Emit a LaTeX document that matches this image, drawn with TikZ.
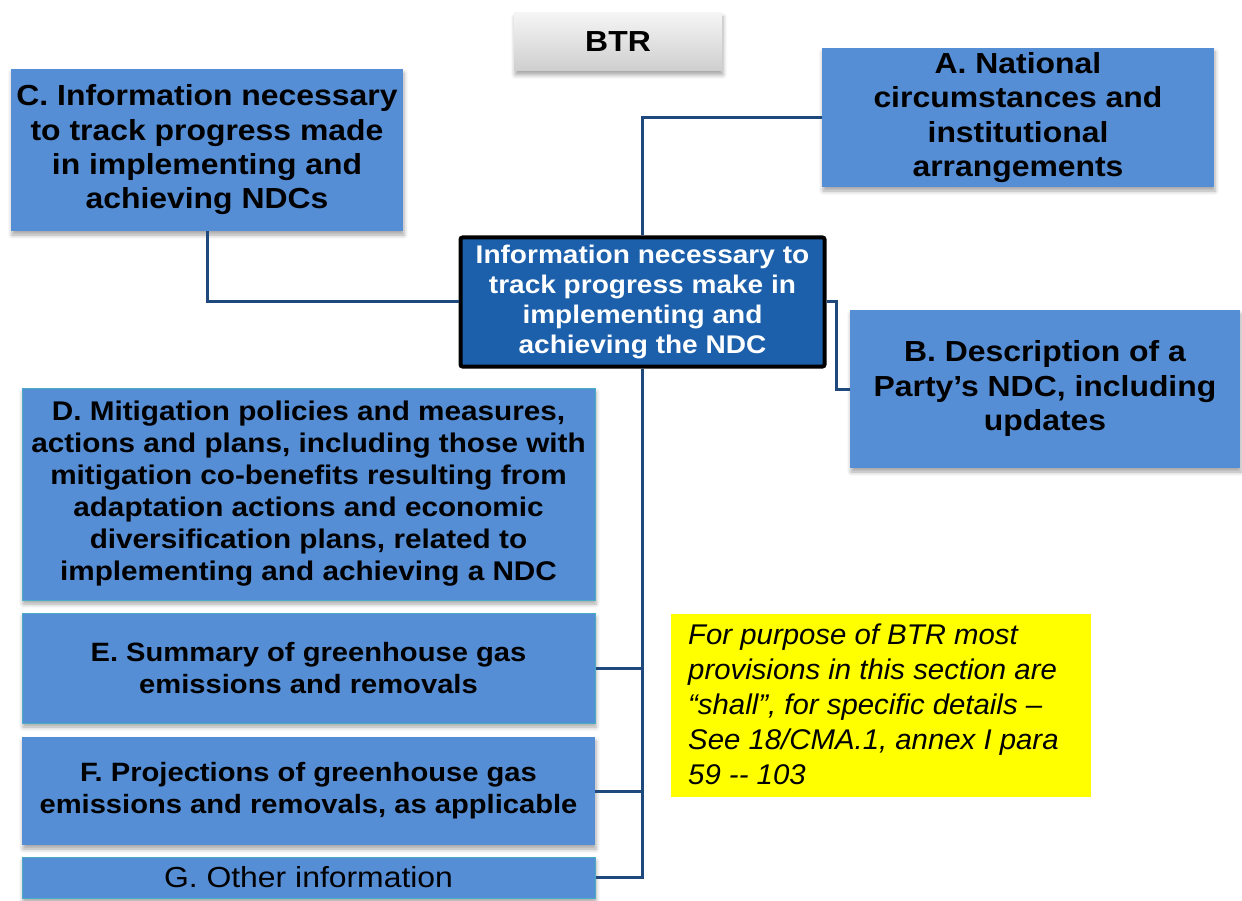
\documentclass[tikz,border=0pt]{standalone}
\usepackage{fontspec}
\setmainfont{Liberation Sans}[FakeStretch=1.1]
\newfontfamily\notefont{Liberation Sans}[FakeStretch=1.03]
\usetikzlibrary{shadows.blur}
\definecolor{boxblue}{RGB}{85,142,213}
\definecolor{ctrblue}{RGB}{28,96,172}
\definecolor{linkblue}{RGB}{31,73,125}
\definecolor{edgecyan}{RGB}{75,172,198}
\definecolor{noteyellow}{RGB}{255,255,0}
\tikzset{
  sh/.style={blur shadow={shadow xshift=1pt, shadow yshift=-4pt, shadow blur radius=4pt, shadow opacity=35}},
  itembox/.style={fill=boxblue, inner sep=0pt, align=center, font=\bfseries, sh},
  cyanbox/.style={itembox, draw=edgecyan, line width=1pt},
  link/.style={draw=linkblue, line width=3pt},
}
\begin{document}
\begin{tikzpicture}[x=1pt,y=-1pt]
\useasboundingbox (0,0) rectangle (1242,901);
% BTR
\node[inner sep=0pt, minimum width=208pt, minimum height=58pt, top color=gray!8, bottom color=gray!38, sh,
  font=\fontsize{29}{34}\selectfont\bfseries] (btr) at (618,42) {BTR};
% C
\node[itembox, minimum width=392pt, minimum height=162pt, font=\fontsize{29}{34.3}\selectfont\bfseries] (C) at (207,150)
  {C. Information necessary\\to track progress made\\in implementing and\\achieving NDCs};
% A
\node[itembox, minimum width=392pt, minimum height=139pt, font=\fontsize{29}{34.5}\selectfont\bfseries] (A) at (1018,117.5)
  {A. National\\circumstances and\\institutional\\arrangements};
% centre
\node[fill=ctrblue, draw=black, line width=4pt, rounded corners=2pt, inner sep=0pt, minimum width=364pt, minimum height=129pt,
  align=center, text=white, font=\fontsize{25.5}{30}\selectfont\bfseries] (ctr) at (642.5,302)
  {Information necessary to\\track progress make in\\implementing and\\achieving the NDC};
% B
\node[itembox, minimum width=390pt, minimum height=158pt, font=\fontsize{29}{34.5}\selectfont\bfseries] (B) at (1045,389)
  {B. Description of a\\Party’s NDC, including\\updates};
% D
\node[cyanbox, minimum width=573pt, minimum height=212pt, font=\fontsize{27}{32}\selectfont\bfseries] (D) at (308.5,494)
  {D. Mitigation policies and measures,\\actions and plans, including those with\\mitigation co-benefits resulting from\\adaptation actions and economic\\diversification plans, related to\\implementing and achieving a NDC};
% E
\node[cyanbox, minimum width=573pt, minimum height=110pt, font=\fontsize{26.5}{32}\selectfont\bfseries] (E) at (308.5,668)
  {E. Summary of greenhouse gas\\emissions and removals};
% F
\node[itembox, minimum width=573pt, minimum height=108pt, font=\fontsize{26.5}{32}\selectfont\bfseries] (F) at (308.5,791)
  {F. Projections of greenhouse gas\\emissions and removals, as applicable};
% G
\node[cyanbox, minimum width=573pt, minimum height=41pt, font=\fontsize{29}{34}\selectfont] (G) at (308.5,877.5)
  {G. Other information};
% note
\node[fill=noteyellow, inner sep=0pt, minimum width=420pt, minimum height=183pt] (note) at (881,705.5) {};
\node[anchor=north west, inner sep=0pt, align=left, font=\notefont\fontsize{28.5}{35}\selectfont\itshape] (notetext) at (688,624)
  {For purpose of BTR most\\provisions in this section are\\“shall”, for specific details –\\See 18/CMA.1, annex I para\\59 -{}- 103};
% connectors
\draw[link] (ctr.north) |- (A.west);
\draw[link] (C.south) |- (ctr.west);
\draw[link] (ctr.east) -- ++(10,0) |- (B.west);
\draw[link] (ctr.south) |- (G.east);
\draw[link] (E.east) -- (E.east -| ctr.south);
\draw[link] (F.east) -- (F.east -| ctr.south);
\end{tikzpicture}
\end{document}
